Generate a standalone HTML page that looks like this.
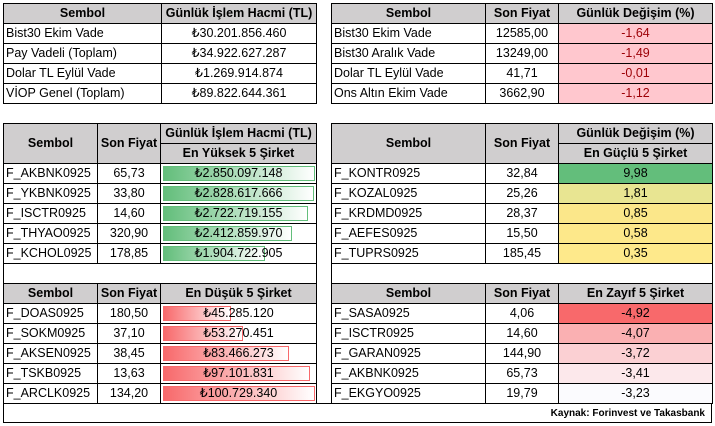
<!DOCTYPE html>
<html><head><meta charset="utf-8"><style>
body{margin:0;width:715px;height:426px;background:#fff;position:relative;overflow:hidden;font-family:"Liberation Sans",Arial,sans-serif;font-size:12.5px;color:#000}
table{position:absolute;border-collapse:collapse;table-layout:fixed}
td{border:1px solid #000;height:19px;padding:0 2px;white-space:nowrap;overflow:hidden;text-align:center;line-height:19px}
td.l{text-align:left}
.h{background:#d0cecf;font-weight:bold;text-align:center}
.rc{background:#ffc7ce;color:#9c0006}
.bar{position:relative}
.bar span{position:relative;z-index:2}
.g,.r{position:absolute;left:2px;top:2px;bottom:2px;z-index:1;box-sizing:border-box}
.g{background:linear-gradient(to right,#63be7b,#fff);border:1px solid #63be7b}
.r{background:linear-gradient(to right,#f8696b,#fff);border:1px solid #f8696b}
#src{position:absolute;left:3px;top:403px;width:709px;height:20px;border:1px solid #000;box-sizing:border-box;text-align:right;font-size:10px;font-weight:bold;line-height:19px;padding-right:6px}
</style></head><body>

<table style="left:3px;top:3px;width:313px">
<col style="width:158px"><col style="width:155px">
<tr><td class="h">Sembol</td><td class="h">Günlük İşlem Hacmi (TL)</td></tr>
<tr><td class="l">Bist30 Ekim Vade</td><td>₺30.201.856.460</td></tr>
<tr><td class="l">Pay Vadeli (Toplam)</td><td>₺34.922.627.287</td></tr>
<tr><td class="l">Dolar TL Eylül Vade</td><td>₺1.269.914.874</td></tr>
<tr><td class="l">VİOP Genel (Toplam)</td><td>₺89.822.644.361</td></tr>
</table>

<table style="left:331px;top:3px;width:381px">
<col style="width:154px"><col style="width:73px"><col style="width:154px">
<tr><td class="h">Sembol</td><td class="h">Son Fiyat</td><td class="h">Günlük Değişim (%)</td></tr>
<tr><td class="l">Bist30 Ekim Vade</td><td>12585,00</td><td class="rc">-1,64</td></tr>
<tr><td class="l">Bist30 Aralık Vade</td><td>13249,00</td><td class="rc">-1,49</td></tr>
<tr><td class="l">Dolar TL Eylül Vade</td><td>41,71</td><td class="rc">-0,01</td></tr>
<tr><td class="l">Ons Altın Ekim Vade</td><td>3662,90</td><td class="rc">-1,12</td></tr>
</table>

<table style="left:3px;top:123px;width:313px">
<col style="width:94px"><col style="width:63px"><col style="width:156px">
<tr><td class="h" rowspan="2">Sembol</td><td class="h" rowspan="2">Son Fiyat</td><td class="h">Günlük İşlem Hacmi (TL)</td></tr>
<tr><td class="h">En Yüksek 5 Şirket</td></tr>
<tr><td class="l">F_AKBNK0925</td><td>65,73</td><td class="bar"><div class="g" style="width:152px"></div><span>₺2.850.097.148</span></td></tr>
<tr><td class="l">F_YKBNK0925</td><td>33,80</td><td class="bar"><div class="g" style="width:151px"></div><span>₺2.828.617.666</span></td></tr>
<tr><td class="l">F_ISCTR0925</td><td>14,60</td><td class="bar"><div class="g" style="width:145px"></div><span>₺2.722.719.155</span></td></tr>
<tr><td class="l">F_THYAO0925</td><td>320,90</td><td class="bar"><div class="g" style="width:129px"></div><span>₺2.412.859.970</span></td></tr>
<tr><td class="l">F_KCHOL0925</td><td>178,85</td><td class="bar"><div class="g" style="width:102px"></div><span>₺1.904.722.905</span></td></tr>
<tr><td colspan="3"></td></tr>
<tr><td class="h">Sembol</td><td class="h">Son Fiyat</td><td class="h">En Düşük 5 Şirket</td></tr>
<tr><td class="l">F_DOAS0925</td><td>180,50</td><td class="bar"><div class="r" style="width:68px"></div><span>₺45.285.120</span></td></tr>
<tr><td class="l">F_SOKM0925</td><td>37,10</td><td class="bar"><div class="r" style="width:80px"></div><span>₺53.270.451</span></td></tr>
<tr><td class="l">F_AKSEN0925</td><td>38,45</td><td class="bar"><div class="r" style="width:126px"></div><span>₺83.466.273</span></td></tr>
<tr><td class="l">F_TSKB0925</td><td>13,63</td><td class="bar"><div class="r" style="width:147px"></div><span>₺97.101.831</span></td></tr>
<tr><td class="l">F_ARCLK0925</td><td>134,20</td><td class="bar"><div class="r" style="width:152px"></div><span>₺100.729.340</span></td></tr>
</table>

<table style="left:331px;top:123px;width:381px">
<col style="width:154px"><col style="width:73px"><col style="width:154px">
<tr><td class="h" rowspan="2">Sembol</td><td class="h" rowspan="2">Son Fiyat</td><td class="h">Günlük Değişim (%)</td></tr>
<tr><td class="h">En Güçlü 5 Şirket</td></tr>
<tr><td class="l">F_KONTR0925</td><td>32,84</td><td style="background:#63be7b">9,98</td></tr>
<tr><td class="l">F_KOZAL0925</td><td>25,26</td><td style="background:#e8e592">1,81</td></tr>
<tr><td class="l">F_KRDMD0925</td><td>28,37</td><td style="background:#fbe78a">0,85</td></tr>
<tr><td class="l">F_AEFES0925</td><td>15,50</td><td style="background:#fde88a">0,58</td></tr>
<tr><td class="l">F_TUPRS0925</td><td>185,45</td><td style="background:#fee98b">0,35</td></tr>
<tr><td colspan="3"></td></tr>
<tr><td class="h">Sembol</td><td class="h">Son Fiyat</td><td class="h">En Zayıf 5 Şirket</td></tr>
<tr><td class="l">F_SASA0925</td><td>4,06</td><td style="background:#f8696b">-4,92</td></tr>
<tr><td class="l">F_ISCTR0925</td><td>14,60</td><td style="background:#fab0b2">-4,07</td></tr>
<tr><td class="l">F_GARAN0925</td><td>144,90</td><td style="background:#fbd0d3">-3,72</td></tr>
<tr><td class="l">F_AKBNK0925</td><td>65,73</td><td style="background:#fce8eb">-3,41</td></tr>
<tr><td class="l">F_EKGYO0925</td><td>19,79</td><td style="background:#fbfbfe">-3,23</td></tr>
</table>

<div id="src">Kaynak: Forinvest ve Takasbank</div>
</body></html>
